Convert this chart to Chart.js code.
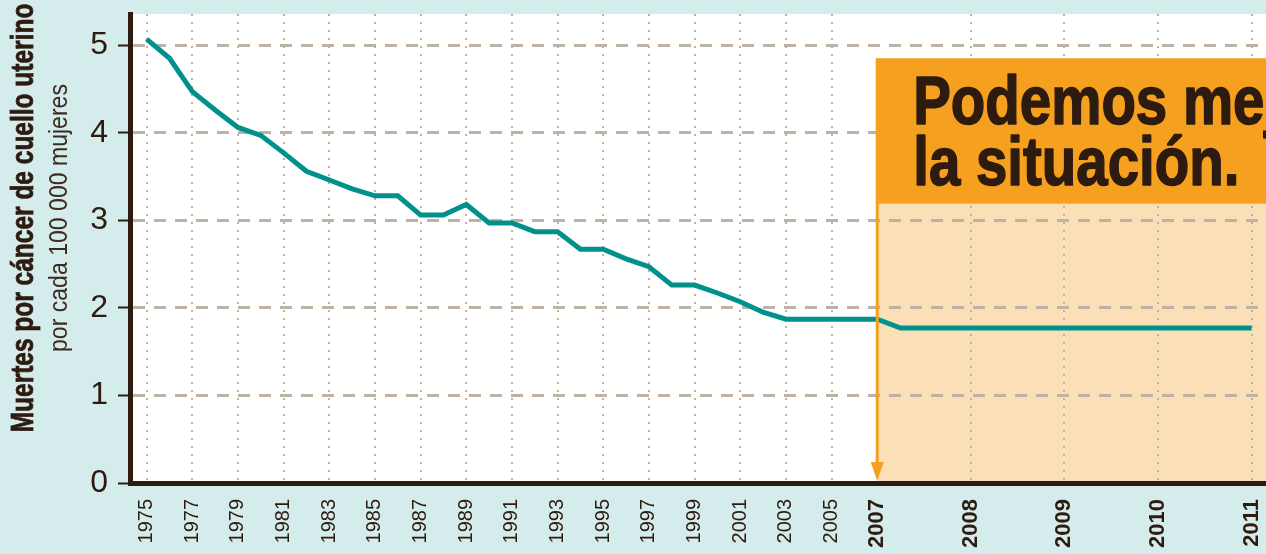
<!DOCTYPE html>
<html lang="es">
<head>
<meta charset="utf-8">
<title>Muertes por cáncer de cuello uterino</title>
<script src="https://cdn.jsdelivr.net/npm/chart.js@4.4.0/dist/chart.umd.min.js"></script>
<style>
  html, body { margin: 0; padding: 0; background: #d5ecec; }
  #wrap { width: 1266px; height: 554px; position: relative; }
</style>
</head>
<body>
<div id="wrap"><canvas id="chart"></canvas></div>
<script>
// Deaths from cervical cancer per 100 000 women
const years = [1975, 1976, 1977, 1978, 1979, 1980, 1981, 1982, 1983, 1984, 1985,
               1986, 1987, 1988, 1989, 1990, 1991, 1992, 1993, 1994, 1995, 1996,
               1997, 1998, 1999, 2000, 2001, 2002, 2003, 2004, 2005, 2006, 2007];
const deaths = [5.07, 4.85, 4.47, 4.26, 4.06, 3.97, 3.77, 3.56, 3.46, 3.36, 3.28,
                3.28, 3.06, 3.06, 3.18, 2.97, 2.97, 2.87, 2.87, 2.67, 2.67, 2.56,
                2.47, 2.26, 2.26, 2.17, 2.07, 1.95, 1.87, 1.87, 1.87, 1.87, 1.87];

// the "we can do better" stretch after 2007
const projYears = [2007.25, 2008, 2009, 2010, 2011];
const projDeaths = [1.77, 1.77, 1.77, 1.77, 1.77];

const tickYears = [1975, 1977, 1979, 1981, 1983, 1985, 1987, 1989, 1991, 1993, 1995,
                   1997, 1999, 2001, 2003, 2005, 2007, 2008, 2009, 2010, 2011];
const yTicks = [0, 1, 2, 3, 4, 5];

const ink = '#2e1b10';
const gridInk = '#bdb2a4';
const teal = '#00918d';
const orange = '#f5a11f';
const peach = '#fbdfb6';

// years after 2007 are drawn wider apart than the earlier ones
const BREAK_YEAR = 2007;
const STRETCH = 4.1;
function xPos(year) {
    if (year <= BREAK_YEAR) return year - 1975;
    return (BREAK_YEAR - 1975) + (year - BREAK_YEAR) * STRETCH;
}
function yearAt(pos) {
    const b = BREAK_YEAR - 1975;
    return pos <= b ? 1975 + pos : BREAK_YEAR + (pos - b) / STRETCH;
}

const points = years.map((y, i) => ({ x: xPos(y), y: deaths[i] }))
    .concat(projYears.map((y, i) => ({ x: xPos(y), y: projDeaths[i] })));

// callout box limits, in axis units
const boxTop = 4.85;
const bandBottom = 3.19;

const backdrop = {
    id: 'backdrop',
    beforeDraw(chart) {
        const { ctx, chartArea: a, scales: { x, y } } = chart;
        ctx.save();
        ctx.fillStyle = '#d5ecec';
        ctx.fillRect(0, 0, chart.width, chart.height);
        ctx.fillStyle = '#ffffff';
        ctx.fillRect(a.left, a.top, a.right - a.left, a.bottom - a.top);
        const bx = x.getPixelForValue(xPos(BREAK_YEAR));
        const by = y.getPixelForValue(boxTop);
        ctx.fillStyle = peach;
        ctx.fillRect(bx, by, chart.width - bx, a.bottom - by);
        ctx.restore();
    }
};

const callout = {
    id: 'callout',
    afterDatasetsDraw(chart) {
        const { ctx, chartArea: a, scales: { x, y } } = chart;
        const bx = x.getPixelForValue(xPos(BREAK_YEAR));
        const by = y.getPixelForValue(boxTop);
        const bb = y.getPixelForValue(bandBottom);
        ctx.save();
        ctx.fillStyle = orange;
        ctx.fillRect(bx, by, chart.width - bx, bb - by);

        // headline, squeezed to look condensed and thickened a little
        ctx.fillStyle = ink;
        ctx.strokeStyle = ink;
        ctx.lineWidth = 1.6;
        ctx.lineJoin = 'round';
        ctx.font = 'bold 68px "Liberation Sans", Arial, sans-serif';
        ctx.textBaseline = 'alphabetic';
        ctx.translate(bx + 36, by + 66);
        ctx.scale(0.83, 1);
        ctx.fillText('Podemos mejorar', 0, 0);
        ctx.strokeText('Podemos mejorar', 0, 0);
        ctx.fillText('la situación.', 0, 61);
        ctx.strokeText('la situación.', 0, 61);
        ctx.restore();

        // arrow down to 2007
        ctx.save();
        ctx.strokeStyle = orange;
        ctx.fillStyle = orange;
        ctx.lineWidth = 3;
        ctx.beginPath();
        ctx.moveTo(bx, by);
        ctx.lineTo(bx, a.bottom - 18);
        ctx.stroke();
        ctx.beginPath();
        ctx.moveTo(bx - 6.5, a.bottom - 21);
        ctx.lineTo(bx + 6.5, a.bottom - 21);
        ctx.lineTo(bx, a.bottom - 2);
        ctx.closePath();
        ctx.fill();
        ctx.restore();
    }
};

const yTitle = {
    id: 'yTitle',
    afterDraw(chart) {
        const ctx = chart.ctx;
        ctx.save();
        ctx.fillStyle = ink;
        ctx.strokeStyle = ink;
        ctx.lineWidth = 0.8;
        ctx.textAlign = 'center';
        ctx.textBaseline = 'alphabetic';
        ctx.translate(33, 218);
        ctx.rotate(-Math.PI / 2);
        ctx.scale(0.79, 1);
        ctx.font = 'bold 31px "Liberation Sans", Arial, sans-serif';
        ctx.fillText('Muertes por cáncer de cuello uterino', 0, 0);
        ctx.strokeText('Muertes por cáncer de cuello uterino', 0, 0);
        ctx.restore();

        ctx.save();
        ctx.fillStyle = '#3b2a1e';
        ctx.textAlign = 'center';
        ctx.translate(66.5, 218);
        ctx.rotate(-Math.PI / 2);
        ctx.scale(0.887, 1);
        ctx.font = '26px "Liberation Sans", Arial, sans-serif';
        ctx.fillText('por cada 100 000 mujeres', 0, 0);
        ctx.restore();
    }
};

const ctx = document.getElementById('chart').getContext('2d');
const myChart = new Chart(ctx, {
    type: 'line',
    data: {
        datasets: [{
            data: points,
            borderColor: teal,
            borderWidth: 5,
            pointRadius: 0,
            tension: 0,
            fill: false
        }]
    },
    options: {
        responsive: true,
        maintainAspectRatio: false,
        animation: false,
        layout: { padding: { top: 14, right: 0, bottom: 0, left: 0 } },
        plugins: {
            legend: { display: false },
            tooltip: { enabled: false }
        },
        scales: {
            x: {
                type: 'linear',
                min: -0.73,
                max: 49.03,
                afterBuildTicks: s => { s.ticks = tickYears.map(y => ({ value: xPos(y) })); },
                afterFit: s => {
                    s.height = 71;
                    s.paddingLeft = 0;
                    s.paddingRight = 0;
                },
                grid: {
                    color: c => (c.tick && c.tick.value === xPos(BREAK_YEAR)) ? 'rgba(0,0,0,0)' : gridInk,
                    lineWidth: 2,
                    drawTicks: false
                },
                border: { display: true, color: ink, width: 5, dash: [2, 6] },
                ticks: {
                    autoSkip: false,
                    minRotation: 90,
                    maxRotation: 90,
                    padding: 16,
                    color: ink,
                    font: c => (c.tick && c.tick.value >= xPos(BREAK_YEAR))
                        ? { family: '"Liberation Sans", Arial, sans-serif', size: 22, weight: 'bold' }
                        : { family: '"Liberation Sans", Arial, sans-serif', size: 20, weight: 'normal' },
                    callback: v => String(Math.round(yearAt(v)))
                }
            },
            y: {
                min: 0,
                max: 5.356,
                afterBuildTicks: s => { s.ticks = yTicks.map(v => ({ value: v })); },
                afterFit: s => {
                    s.width = 130;
                    s.paddingTop = 0;
                    s.paddingBottom = 0;
                },
                grid: {
                    color: gridInk,
                    lineWidth: 3,
                    tickLength: 12,
                    tickColor: ink,
                    tickWidth: 2,
                    tickBorderDash: []
                },
                border: { display: true, color: ink, width: 5, dash: [12, 9] },
                ticks: {
                    padding: 10,
                    color: ink,
                    font: { family: '"Liberation Sans", Arial, sans-serif', size: 32 },
                    callback: v => String(v)
                }
            }
        }
    },
    plugins: [backdrop, callout, yTitle]
});
</script>
</body>
</html>
